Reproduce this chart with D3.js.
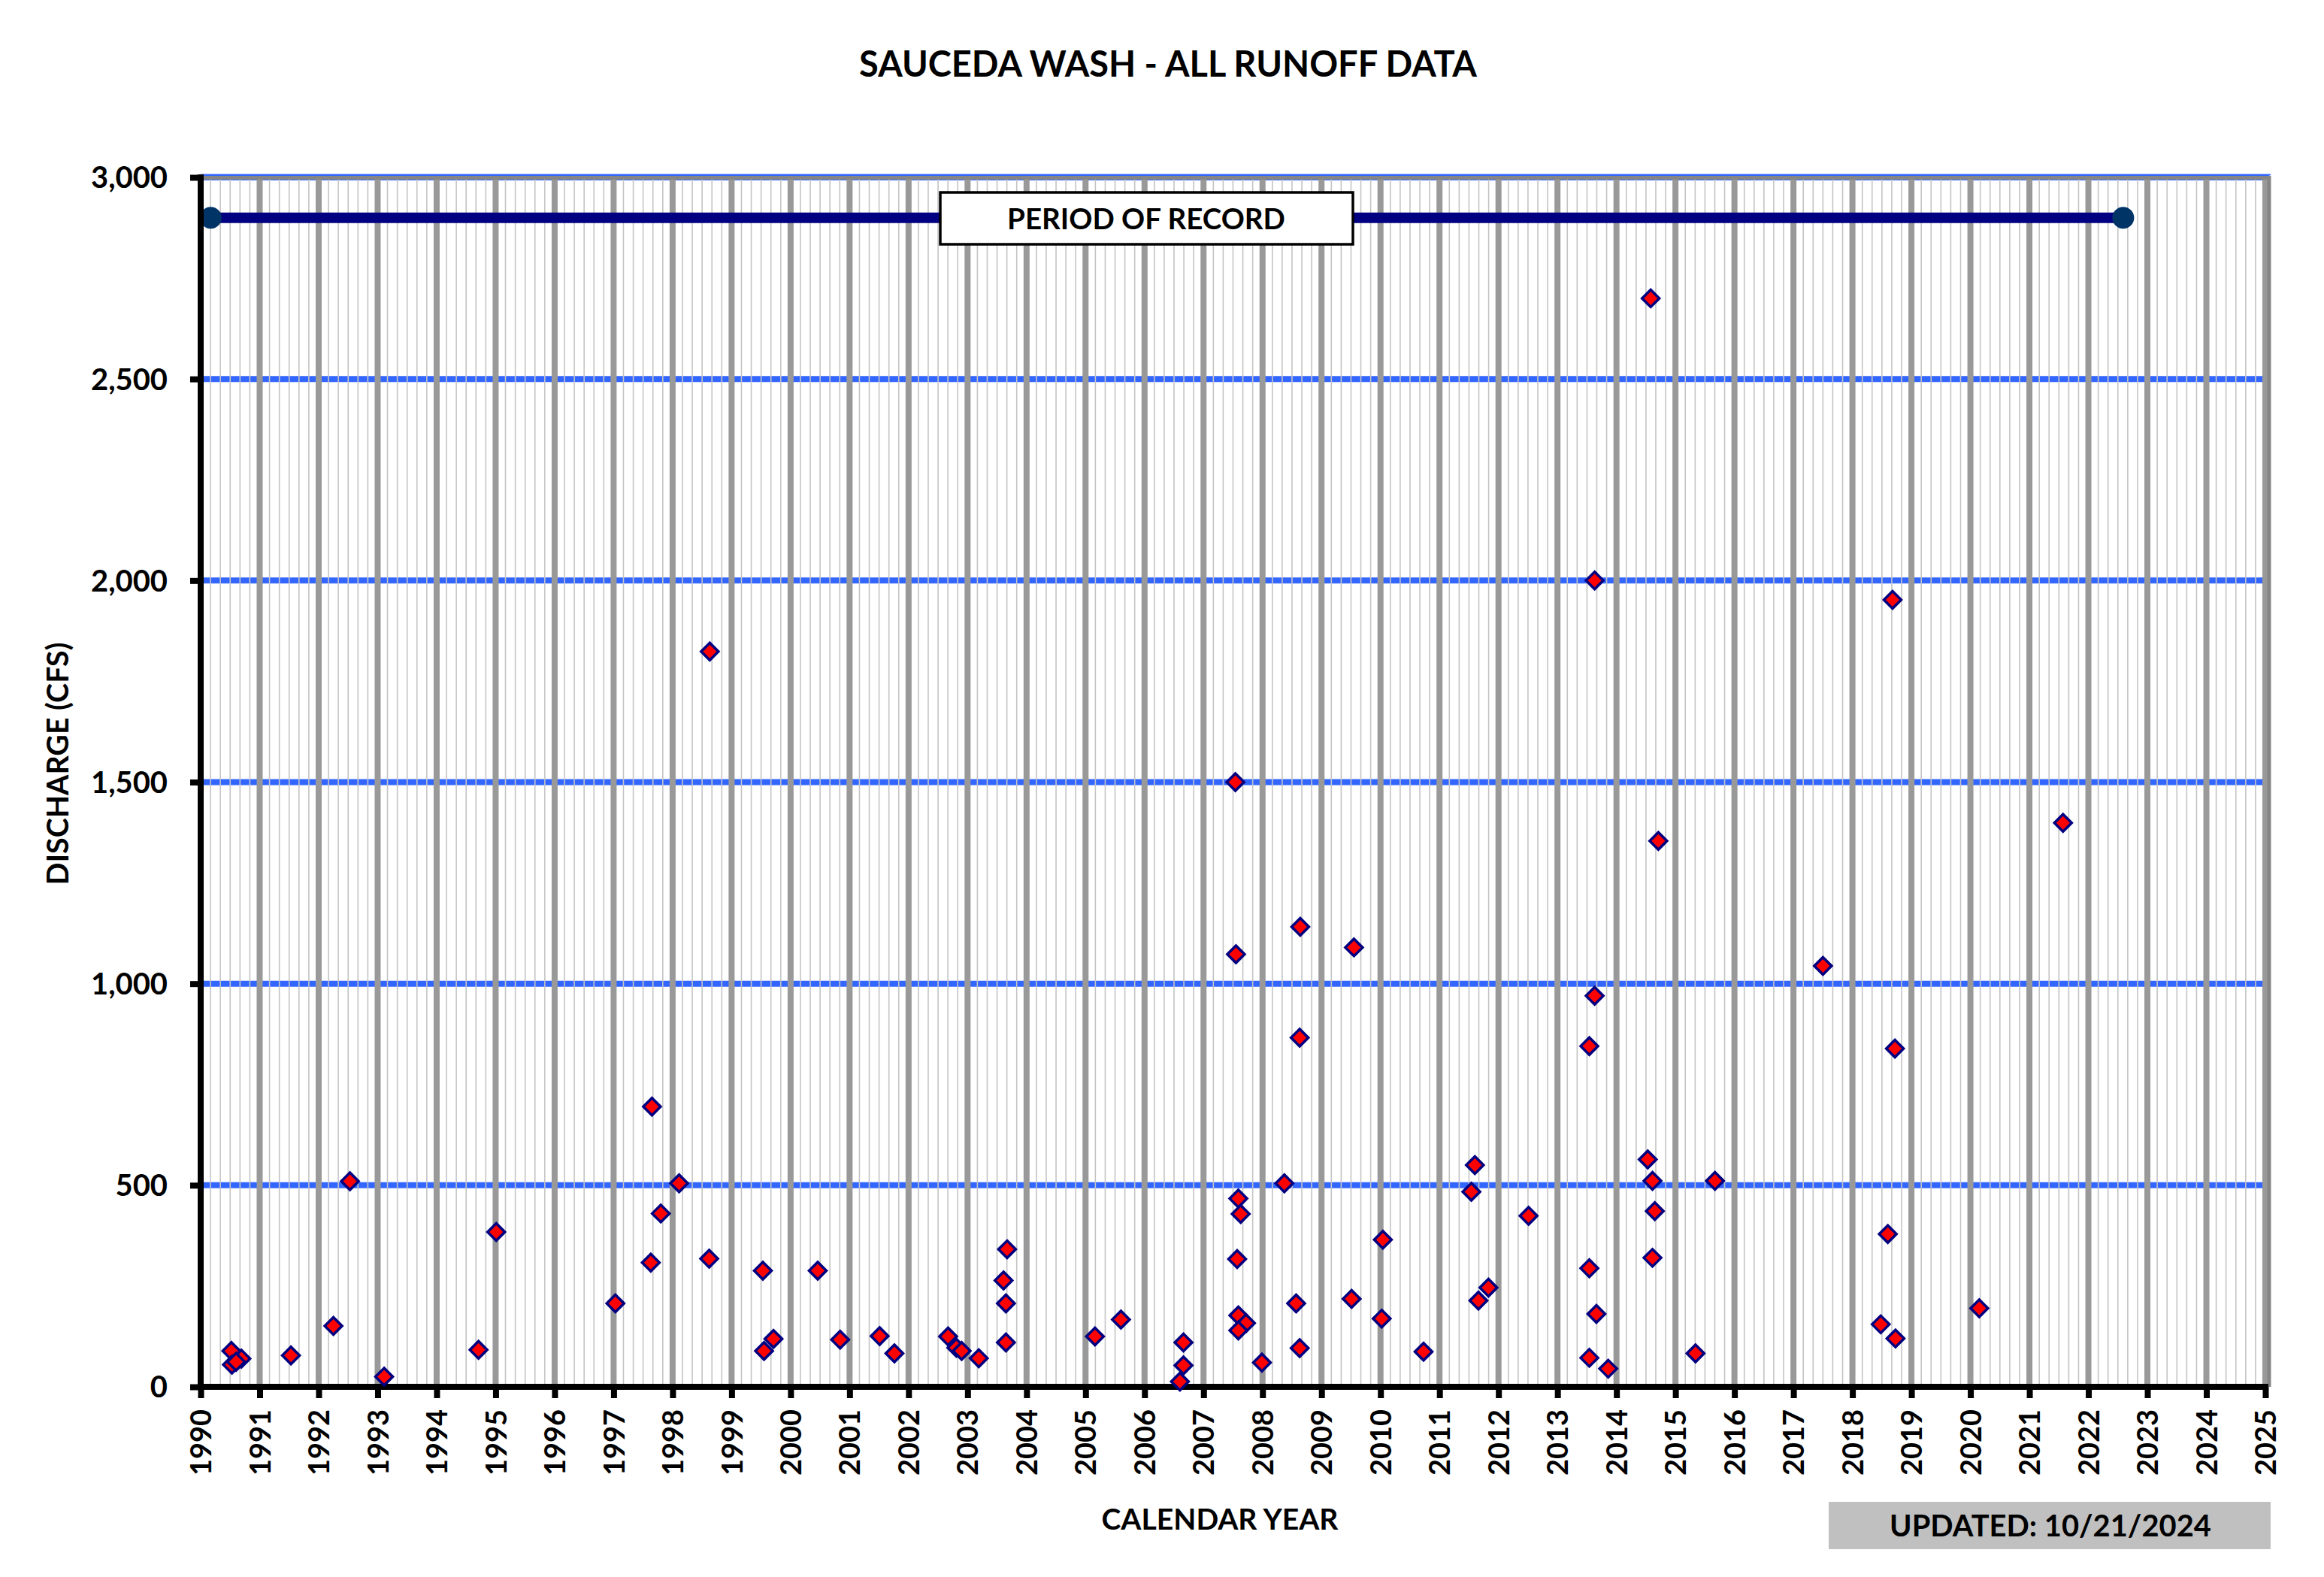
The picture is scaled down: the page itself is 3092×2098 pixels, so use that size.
<!DOCTYPE html>
<html><head><meta charset="utf-8">
<script src="https://cdn.jsdelivr.net/npm/d3@7"></script>
<style>
html,body{margin:0;padding:0;background:#fff;}
svg{display:block;}
text{font-family:Lato,"Open Sans","DejaVu Sans",sans-serif;font-weight:bold;fill:#000;}
</style>
</head><body>
<svg id="chart" width="3092" height="2098"></svg>
<script>
// ---- data ----
const eventYear = [
  1990.52, 1990.69, 1990.53, 1990.60, 1991.53, 1992.25, 1992.53, 1993.11,
  1994.71, 1995.01, 1997.03, 1997.63, 1997.65, 1997.80, 1998.11, 1998.62, 1998.63,
  1999.53, 1999.55, 1999.71, 2000.46, 2000.84, 2001.51, 2001.76,
  2002.67, 2002.81, 2002.90, 2003.19, 2003.61, 2003.65, 2003.65, 2003.67,
  2005.16, 2005.60, 2006.60, 2006.66, 2006.66,
  2007.54, 2007.55, 2007.57, 2007.59, 2007.63, 2007.59, 2007.72, 2007.59, 2007.99,
  2008.37, 2008.57, 2008.63, 2008.64, 2008.63, 2009.51, 2009.55,
  2010.04, 2010.02, 2010.73, 2011.54, 2011.60, 2011.66, 2011.83, 2012.51,
  2013.54, 2013.54, 2013.54, 2013.63, 2013.63, 2013.66, 2013.86,
  2014.53, 2014.58, 2014.61, 2014.65, 2014.61, 2014.71, 2015.34, 2015.67,
  2017.50, 2018.48, 2018.60, 2018.68, 2018.72, 2018.73, 2020.15, 2021.57
];
const dischargeCfs = [
  89, 70, 55, 62, 78, 151, 510, 25,
  92, 384, 207, 308, 695, 430, 505, 318, 1824,
  288, 89, 119, 288, 117, 126, 83,
  125, 97, 89, 71, 264, 207, 110, 341,
  125, 167, 13, 53, 110,
  1500, 1073, 317, 467, 429, 177, 158, 140, 60,
  505, 207, 96, 1141, 866, 218, 1090,
  365, 169, 87, 484, 550, 214, 246, 424,
  294, 72, 845, 970, 2000, 181, 45,
  564, 2700, 511, 436, 320, 1354, 83, 511,
  1044, 155, 379, 1952, 839, 120, 195, 1399
];
const periodYears = [1990.17, 2022.59];
const periodCfs = [2900, 2900];
const yTickValues = [0, 500, 1000, 1500, 2000, 2500, 3000];
const xTickValues = d3.range(1990, 2026);
const titleText = "SAUCEDA WASH - ALL RUNOFF DATA";
const yLabelText = "DISCHARGE (CFS)";
const xLabelText = "CALENDAR YEAR";
const periodText = "PERIOD OF RECORD";
const updatedText = "UPDATED: 10/21/2024";

// ---- layout ----
const svg = d3.select("#chart");
const X0 = 267, X1 = 3014, Y0 = 1845, Y1 = 236;
const x = d3.scaleLinear().domain([1990, 2025]).range([X0, X1]);
const y = d3.scaleLinear().domain([0, 3000]).range([Y0, Y1]);

function fit(sel, w) {
  const len = sel.node().getComputedTextLength();
  const fs = parseFloat(sel.attr("font-size"));
  sel.attr("font-size", fs * w / len);
  return fs * w / len;
}

svg.append("rect").attr("width", 3092).attr("height", 2098).attr("fill", "#fff");

// horizontal blue gridlines
svg.append("g").selectAll("line").data(yTickValues.filter(d => d > 0)).join("line")
  .attr("x1", X0).attr("x2", x(2025) + 5)
  .attr("y1", d => y(d)).attr("y2", d => y(d))
  .attr("stroke", "#3366ff").attr("stroke-width", 8);

// minor vertical gridlines (every 2 months)
const minor = d3.range(0, 35 * 6 + 1).map(i => 1990 + i / 6).filter((d, i) => i % 6 !== 0);
svg.append("g").selectAll("line").data(minor).join("line")
  .attr("x1", d => x(d)).attr("x2", d => x(d))
  .attr("y1", Y1).attr("y2", Y0)
  .attr("stroke", "#c4c4c4").attr("stroke-width", 1.6);

// major vertical gridlines
svg.append("g").selectAll("line").data(xTickValues.filter(d => d > 1990)).join("line")
  .attr("x1", d => x(d)).attr("x2", d => x(d))
  .attr("y1", Y1).attr("y2", Y0)
  .attr("stroke", "#999999").attr("stroke-width", 8);

// plot border (top / right)
svg.append("path")
  .attr("d", `M${X0},${Y1 + 0.5}H${x(2025) + 5}V${Y0}`)
  .attr("fill", "none").attr("stroke", "#858585").attr("stroke-width", 5);
svg.append("line").attr("x1", X0).attr("x2", x(2025) + 7)
  .attr("y1", Y1 - 3.5).attr("y2", Y1 - 3.5)
  .attr("stroke", "#3366ff").attr("stroke-width", 2);

// period of record line
const period = periodYears.map((d, i) => [d, periodCfs[i]]);
svg.append("path")
  .attr("d", d3.line().x(d => x(d[0])).y(d => y(d[1]))(period))
  .attr("stroke", "#000080").attr("stroke-width", 14).attr("fill", "none");
svg.append("g").selectAll("circle").data(period).join("circle")
  .attr("cx", d => x(d[0])).attr("cy", d => y(d[1])).attr("r", 14.5)
  .attr("fill", "#003366");

// period of record label
svg.append("rect").attr("x", 1251).attr("y", 256).attr("width", 549).attr("height", 69)
  .attr("fill", "#fff").attr("stroke", "#000").attr("stroke-width", 3.5);
const pt = svg.append("text").attr("x", 1525).attr("y", 305).attr("text-anchor", "middle")
  .attr("font-size", 40).text(periodText);
fit(pt, 370);

// axes
const yAxis = svg.append("g").attr("transform", `translate(${X0},0)`)
  .call(d3.axisLeft(y).tickValues(yTickValues).tickSize(14).tickSizeOuter(0)
    .tickPadding(30).tickFormat(d3.format(",")));
yAxis.select(".domain").attr("stroke", "#000").attr("stroke-width", 8)
  .attr("d", `M0,${Y0 + 4}V${Y1 - 4}`);
yAxis.selectAll(".tick line").attr("stroke", "#000").attr("stroke-width", 8).attr("x1", 0);
yAxis.selectAll(".tick text").attr("font-size", 40).attr("font-family", null)
  .attr("dy", "0.35em").attr("fill", "#000");
const ySample = yAxis.selectAll(".tick text").filter(d => d === 3000);
const yfs = fit(ySample, 102);
yAxis.selectAll(".tick text").attr("font-size", yfs).attr("x", -44);

const xAxis = svg.append("g").attr("transform", `translate(0,${Y0})`)
  .call(d3.axisBottom(x).tickValues(xTickValues).tickSize(15).tickSizeOuter(0)
    .tickFormat(d3.format("d")));
xAxis.select(".domain").attr("stroke", "#000").attr("stroke-width", 8)
  .attr("d", `M${X0 - 4},0H${x(2025) + 4}`);
xAxis.selectAll(".tick line").attr("stroke", "#000").attr("stroke-width", 8).attr("y1", 0);
xAxis.selectAll(".tick text").attr("font-size", 40).attr("font-family", null)
  .attr("fill", "#000")
  .attr("text-anchor", "end").attr("y", 0).attr("dy", "0.36em")
  .attr("transform", "translate(0,30) rotate(-90)");
const xSample = xAxis.selectAll(".tick text").filter(d => d === 1990);
const xfs = fit(xSample, 88);
xAxis.selectAll(".tick text").attr("font-size", xfs);

// data markers
const pts = eventYear.map((d, i) => [d, dischargeCfs[i]]);
const r = 11.5;
svg.append("g").selectAll("path").data(pts).join("path")
  .attr("transform", d => `translate(${x(d[0])},${y(d[1])})`)
  .attr("d", `M0,${-r}L${r},0L0,${r}L${-r},0Z`)
  .attr("fill", "#ff0000").attr("stroke", "#000080").attr("stroke-width", 3.5);

// titles
const tt = svg.append("text").attr("x", 1554).attr("y", 102).attr("text-anchor", "middle")
  .attr("font-size", 44).text(titleText);
fit(tt, 822);
const yl = svg.append("text").attr("transform", "translate(91,1016) rotate(-90)")
  .attr("text-anchor", "middle").attr("font-size", 40).text(yLabelText);
fit(yl, 323);
const xl = svg.append("text").attr("x", 1623).attr("y", 2035).attr("text-anchor", "middle")
  .attr("font-size", 40).text(xLabelText);
fit(xl, 315);

// updated box
svg.append("rect").attr("x", 2433).attr("y", 1998).attr("width", 588).attr("height", 63)
  .attr("fill", "#c0c0c0");
const ut = svg.append("text").attr("x", 2728).attr("y", 2044).attr("text-anchor", "middle")
  .attr("font-size", 40).text(updatedText);
fit(ut, 428);
</script>
</body></html>
